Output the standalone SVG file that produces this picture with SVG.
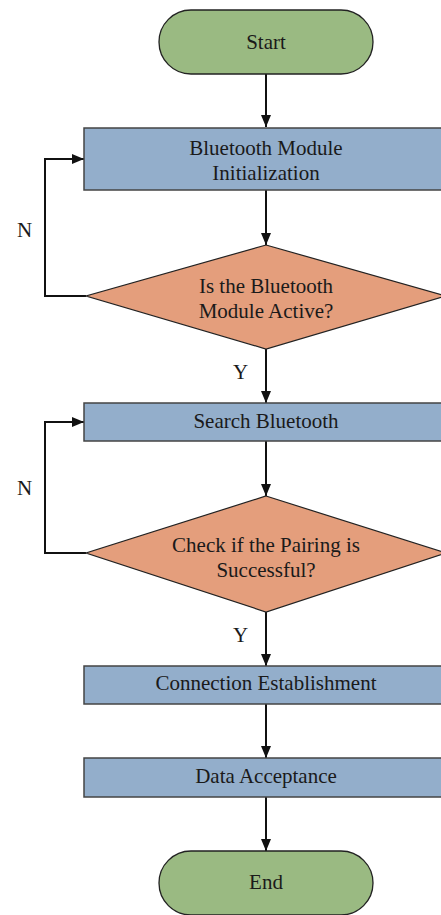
<svg xmlns="http://www.w3.org/2000/svg" width="441" height="915" viewBox="0 0 441 915">
  <defs>
    <marker id="arrow" viewBox="0 0 12 10" refX="12" refY="5" markerWidth="12" markerHeight="10" markerUnits="userSpaceOnUse" orient="auto">
      <path d="M0,0 L12,5 L0,10 Z" fill="#111"/>
    </marker>
  </defs>
  <style>
    .terminal { fill: #9aba82; stroke: #222; stroke-width: 1.3; }
    .process { fill: #93aecb; stroke: #444; stroke-width: 1.5; }
    .decision { fill: #e49e7c; stroke: #222; stroke-width: 1.2; }
    text { font-family: "Liberation Serif", "Times New Roman", serif; font-size: 21px; fill: #1a1a1a; }
    .node-text { text-anchor: middle; }
    .edge { fill: none; stroke: #111; stroke-width: 2; marker-end: url(#arrow); }
  </style>
  <rect width="441" height="915" fill="#ffffff"/>

  <!-- arrows between steps, plus the two "N" retry loops -->
  <g id="connectors">
    <path class="edge" d="M266,74 V127"/>
    <path class="edge" d="M266,190 V245"/>
    <path class="edge" d="M86,296 H45 V159 H84"/>
    <path class="edge" d="M266,349 V403"/>
    <path class="edge" d="M266,441 V496"/>
    <path class="edge" d="M86,553 H45 V422 H84"/>
    <path class="edge" d="M266,612 V666"/>
    <path class="edge" d="M266,704 V758"/>
    <path class="edge" d="M266,797 V851"/>
    <text x="17" y="237">N</text>
    <text x="233" y="379">Y</text>
    <text x="17" y="495">N</text>
    <text x="233" y="642">Y</text>
  </g>

  <g id="start">
    <rect class="terminal" x="159" y="10" width="214" height="64" rx="32" ry="32"/>
    <text class="node-text" x="266" y="49">Start</text>
  </g>

  <g id="bt-init">
    <rect class="process" x="84" y="128" width="364" height="62"/>
    <text class="node-text" x="266" y="155">Bluetooth Module</text>
    <text class="node-text" x="266" y="180">Initialization</text>
  </g>

  <g id="bt-active">
    <polygon class="decision" points="266,245 446,296 266,349 86,296"/>
    <text class="node-text" x="266" y="293">Is the Bluetooth</text>
    <text class="node-text" x="266" y="318">Module Active?</text>
  </g>

  <g id="search">
    <rect class="process" x="84" y="403" width="364" height="38"/>
    <text class="node-text" x="266" y="428">Search Bluetooth</text>
  </g>

  <g id="pairing">
    <polygon class="decision" points="266,496 446,553 266,612 86,553"/>
    <text class="node-text" x="266" y="552">Check if the Pairing is</text>
    <text class="node-text" x="266" y="577">Successful?</text>
  </g>

  <g id="connect">
    <rect class="process" x="84" y="666" width="364" height="38"/>
    <text class="node-text" x="266" y="690">Connection Establishment</text>
  </g>

  <g id="data">
    <rect class="process" x="84" y="758" width="364" height="39"/>
    <text class="node-text" x="266" y="783">Data Acceptance</text>
  </g>

  <g id="end">
    <rect class="terminal" x="159" y="851" width="214" height="64" rx="32" ry="32"/>
    <text class="node-text" x="266" y="889">End</text>
  </g>
</svg>
